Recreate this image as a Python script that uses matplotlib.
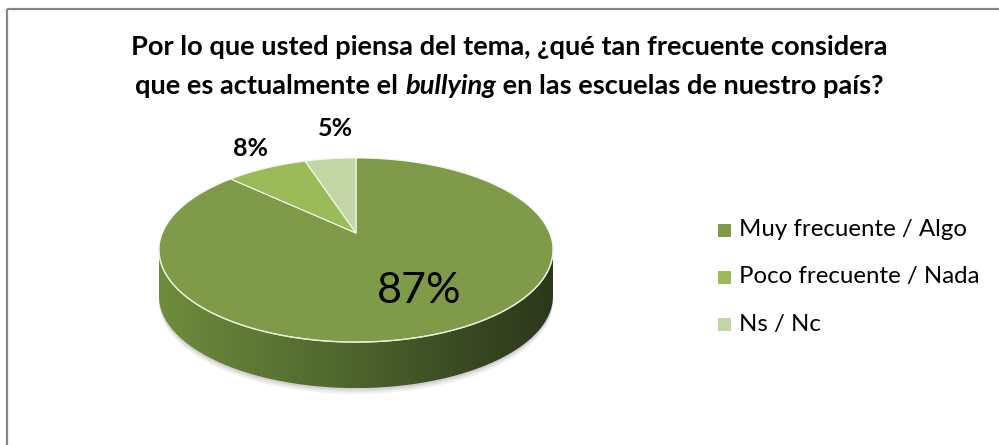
import numpy as np
import matplotlib
matplotlib.use("Agg")
import matplotlib.pyplot as plt
from matplotlib.patches import Polygon, Rectangle
from matplotlib.colors import LinearSegmentedColormap

categories = ["Muy frecuente / Algo", "Poco frecuente / Nada", "Ns / Nc"]
values = [87, 8, 5]
labels = ["87%", "8%", "5%"]
colors = ["#7f9a48", "#9bbb59", "#c4d6a6"]
title_line1 = "Por lo que usted piensa del tema, ¿qué tan frecuente considera"
title_line2 = ["que es actualmente el ", "bullying", " en las escuelas de nuestro país?"]

W, H = 999, 445
fig = plt.figure(figsize=(W / 100, H / 100), dpi=100)
ax = fig.add_axes([0, 0, 1, 1])
ax.set_xlim(0, W)
ax.set_ylim(H, 0)
ax.axis("off")

# frame
ax.plot([7, 999], [9, 9], color="#868686", lw=1.6, solid_capstyle="butt")
ax.plot([7, 7], [9, 445], color="#868686", lw=1.6, solid_capstyle="butt")

# perspective pie geometry
cx, cy = 356, 233
t = 0.185
a, b = 193.6, 88.9
depth = 46


def proj(theta, r=1.0, z=0.0):
    u = r * np.sin(theta)
    v = -r * np.cos(theta)
    s = 1 - t * v
    return cx + a * u / s, cy + b * v / s + depth * z


total = float(sum(values))
bounds = np.concatenate([[0], np.cumsum(values)]) / total * 2 * np.pi

# side (front visible part)
th_r = np.arccos(-t)
th_l = 2 * np.pi - th_r
ths = np.linspace(th_r, th_l, 300)
xt, yt = proj(ths)
xb, yb = proj(ths[::-1], z=1)
side_pts = np.column_stack([np.concatenate([xt, xb]), np.concatenate([yt, yb])])

# faint shadow
for k, alpha in [(6, 0.05), (4, 0.06), (2, 0.08)]:
    shx, shy = proj(ths, z=1)
    sh = Polygon(np.column_stack([np.concatenate([xt, shx[::-1]]),
                                  np.concatenate([yt + k * 0.3, shy[::-1] + k])]),
                 closed=True, facecolor="#000000", alpha=alpha, edgecolor="none", zorder=1)
    ax.add_patch(sh)

side_poly = Polygon(side_pts, closed=True, facecolor="none", edgecolor="none", zorder=2)
ax.add_patch(side_poly)
cmap = LinearSegmentedColormap.from_list(
    "side", ["#6e8c3c", "#5d7835", "#4d632d", "#3b4c23", "#2c371a"])
grad = np.linspace(0, 1, 256).reshape(1, -1)
im = ax.imshow(grad, cmap=cmap, extent=[xt.min(), xt.max(), yb.max(), yt.min() - 60],
               aspect="auto", zorder=2, interpolation="bilinear")
im.set_clip_path(side_poly)
ax.set_xlim(0, W)
ax.set_ylim(H, 0)

# top slices
for i, (v0, v1) in enumerate(zip(bounds[:-1], bounds[1:])):
    th = np.linspace(v0, v1, max(int((v1 - v0) / (2 * np.pi) * 400), 10))
    px, py = proj(th)
    pts = np.column_stack([np.concatenate([[cx], px]), np.concatenate([[cy], py])])
    ax.add_patch(Polygon(pts, closed=True, facecolor=colors[i], edgecolor="#f4f7ee",
                         lw=0.8, joinstyle="round", zorder=3))

# highlight along front rim
ax.plot(xt, yt, color="#e6eed8", lw=1.0, zorder=4)

# data labels
ax.text(419, 291, labels[0], fontsize=31, family="Lato", ha="center", va="center",
        color="black", zorder=5)
ax.text(250, 148, labels[1], fontsize=18, family="Lato", fontweight="bold",
        ha="center", va="center", zorder=5)
ax.text(335, 128, labels[2], fontsize=18, family="Lato", fontweight="bold",
        ha="center", va="center", zorder=5)

# legend
leg_y = [230, 277, 324]
for i, cat in enumerate(categories):
    ax.add_patch(Rectangle((718, leg_y[i] - 6.5), 13, 13, facecolor=colors[i],
                           edgecolor="none", zorder=5))
    ax.text(739, leg_y[i], cat, fontsize=17.3, family="Lato", ha="left",
            va="center", zorder=5)

# title
ax.text(509.5, 47, title_line1, fontsize=19.6, family="Lato", fontweight="bold",
        ha="center", va="center")
parts = []
styles = ["normal", "italic", "normal"]
for s, st in zip(title_line2, styles):
    parts.append(ax.text(0, 86, s, fontsize=19.6, family="Lato", fontweight="bold",
                         fontstyle=st, ha="left", va="center"))
fig.canvas.draw()
r = fig.canvas.get_renderer()
inv = ax.transData.inverted()
widths = []
for p in parts:
    bb = p.get_window_extent(r)
    x0 = inv.transform((bb.x0, 0))[0]
    x1 = inv.transform((bb.x1, 0))[0]
    widths.append(x1 - x0)
tot = sum(widths)
x = 509.5 - tot / 2
for p, w in zip(parts, widths):
    p.set_x(x)
    x += w

fig.savefig("out.png", dpi=100)
